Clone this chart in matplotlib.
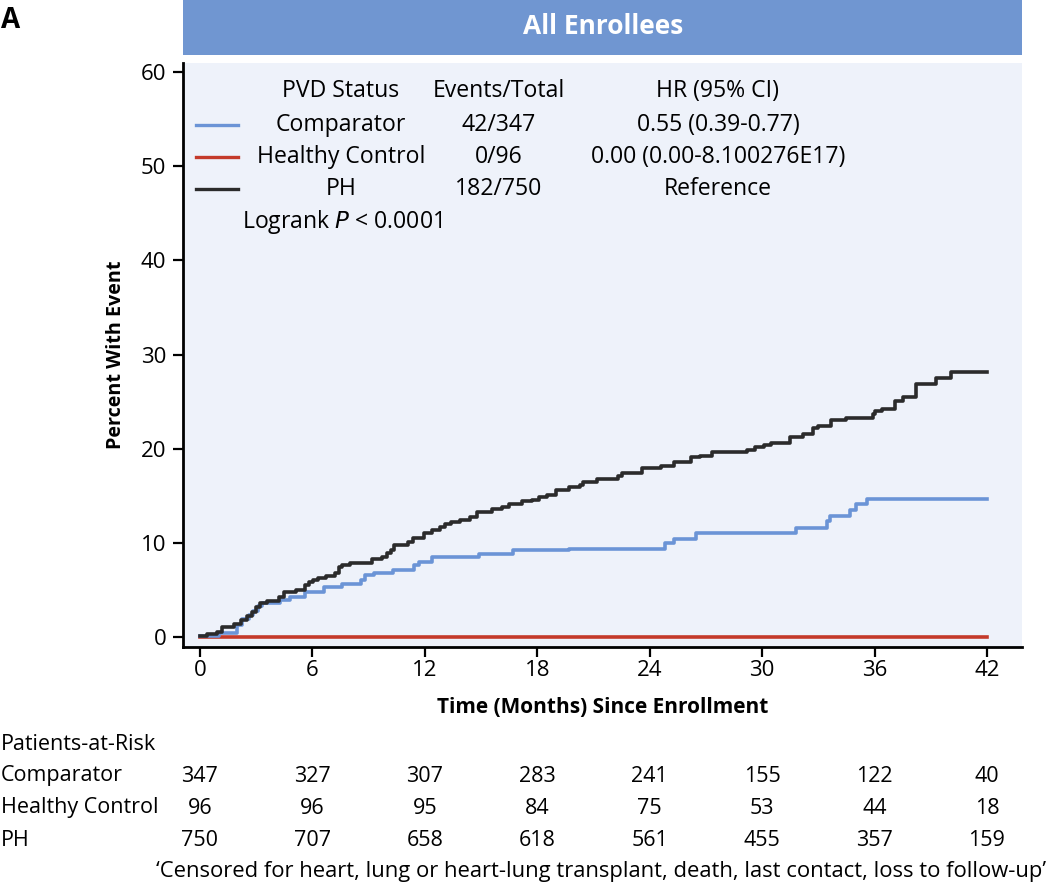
import matplotlib
matplotlib.use("Agg")
import matplotlib.pyplot as plt
import matplotlib.transforms as mtransforms
from matplotlib import font_manager

# ---------------- data ----------------
ph_t = [0.0, 0.4, 0.9, 1.2, 1.8, 2.2, 2.5, 2.75, 3.0, 3.2, 3.6, 4.2, 4.5, 5.1, 5.6, 5.8,
        6.05, 6.3, 6.75, 7.2, 7.4, 7.6, 8.0, 9.16, 9.7, 10.0, 10.2, 10.35, 11.1, 11.35,
        11.96, 12.4, 12.8, 13.07, 13.4, 13.9, 14.4, 14.8, 15.6, 16.1, 16.5, 17.2, 17.7,
        18.1, 18.5, 19.0, 19.7, 20.3, 20.45, 21.2, 22.3, 22.5, 23.6, 24.6, 25.3, 26.2,
        26.7, 27.35, 29.2, 29.6, 30.1, 30.5, 31.5, 32.2, 32.7, 33.0, 33.7, 34.5, 35.9,
        36.0, 36.4, 37.1, 37.5, 38.2, 39.3, 40.1, 42.0]
ph_y = [0.1, 0.3, 0.55, 1.1, 1.4, 1.8, 2.2, 2.7, 3.15, 3.65, 3.85, 4.3, 4.8, 5.0, 5.5, 5.8,
        6.05, 6.3, 6.5, 6.8, 7.45, 7.7, 7.9, 8.25, 8.5, 8.9, 9.2, 9.75, 10.1, 10.5,
        11.0, 11.4, 11.7, 12.0, 12.2, 12.4, 12.7, 13.3, 13.6, 13.8, 14.1, 14.4, 14.6,
        14.9, 15.1, 15.6, 15.9, 16.1, 16.45, 16.8, 17.1, 17.45, 17.9, 18.2, 18.6, 19.1,
        19.25, 19.7, 19.9, 20.2, 20.4, 20.6, 21.2, 21.6, 22.2, 22.4, 23.0, 23.3, 23.7,
        24.0, 24.2, 25.1, 25.5, 26.9, 27.5, 28.1, 28.1]

comp_t = [0.0, 1.0, 1.95, 2.25, 2.6, 2.85, 3.1, 3.3, 4.27, 4.8, 5.6, 6.6, 7.56, 8.6, 8.8,
          9.3, 10.3, 11.4, 11.7, 12.4, 14.9, 16.7, 19.7, 24.8, 25.3, 26.45, 31.8, 33.45,
          33.6, 34.7, 35.0, 35.6, 42.0]
comp_y = [0.1, 0.4, 1.3, 1.9, 2.3, 2.8, 3.3, 3.6, 3.9, 4.3, 4.8, 5.3, 5.6, 6.1, 6.6,
          6.8, 7.1, 7.65, 7.95, 8.5, 8.8, 9.2, 9.35, 9.95, 10.4, 11.0, 11.55, 12.3,
          12.9, 13.5, 14.1, 14.65, 14.65]

hc_t = [0.0, 42.0]
hc_y = [0.0, 0.0]

groups = ["Comparator", "Healthy Control", "PH"]
events_total = ["42/347", "0/96", "182/750"]
hr_ci = ["0.55 (0.39-0.77)", "0.00 (0.00-8.100276E17)", "Reference"]

risk_times = [0, 6, 12, 18, 24, 30, 36, 42]
risk_comp = [347, 327, 307, 283, 241, 155, 122, 40]
risk_hc = [96, 96, 95, 84, 75, 53, 44, 18]
risk_ph = [750, 707, 658, 618, 561, 455, 357, 159]

yticks = [0, 10, 20, 30, 40, 50, 60]

# ---------------- style ----------------
avail = {f.name for f in font_manager.fontManager.ttflist}
body = "Open Sans" if "Open Sans" in avail else "DejaVu Sans"
plt.rcParams["font.family"] = [body, "DejaVu Sans"]

c_blue = "#6b94d6"
c_red = "#c43a2a"
c_black = "#2b2b2b"
c_banner = "#7096d1"
c_bg = "#eef2fa"

W, H = 1050, 889
fig = plt.figure(figsize=(W / 100, H / 100), dpi=100)

def fx(px):
    return px / W

def fy(py):
    return 1 - py / H

ax = fig.add_axes([fx(183), fy(647), fx(1022) - fx(183), fy(63) - fy(647)])
ax.set_facecolor(c_bg)

ax.step(comp_t, comp_y, where="post", color=c_blue, lw=2.6, zorder=3)
ax.step(hc_t, hc_y, where="post", color=c_red, lw=2.6, zorder=2)
ax.step(ph_t, ph_y, where="post", color=c_black, lw=2.6, zorder=4)

ax.set_xlim(-0.907, 43.87)
ax.set_ylim(-1.06, 60.96)
ax.set_xticks(risk_times)
ax.set_yticks(yticks)
ax.tick_params(axis="both", direction="out", length=7, width=1.6, labelsize=16, colors="black")
ax.tick_params(axis="y", pad=5)
ax.tick_params(axis="x", pad=2)
for s in ["top", "right"]:
    ax.spines[s].set_visible(False)
for s in ["left", "bottom"]:
    ax.spines[s].set_linewidth(2)
    ax.spines[s].set_color("black")

ax.set_ylabel("Percent With Event", fontsize=14.2, fontweight="bold", labelpad=11)
ax.set_xlabel("Time (Months) Since Enrollment", fontsize=15, fontweight="bold", labelpad=12)

# legend table inside axes (figure pixel coords)
fleg = 16.6
fig.text(fx(341), fy(91), "PVD Status", ha="center", va="center", fontsize=fleg)
fig.text(fx(499), fy(91), "Events/Total", ha="center", va="center", fontsize=fleg)
fig.text(fx(718), fy(91), "HR (95% CI)", ha="center", va="center", fontsize=fleg)
row_y = [125, 157, 189]
row_cols = [c_blue, c_red, c_black]
for g, e, h, yy, col in zip(groups, events_total, hr_ci, row_y, row_cols):
    fig.add_artist(plt.Line2D([fx(196), fx(238)], [fy(yy), fy(yy)], color=col, lw=2.4,
                              transform=fig.transFigure))
    fig.text(fx(341), fy(yy), g, ha="center", va="center", fontsize=fleg)
    fig.text(fx(499), fy(yy), e, ha="center", va="center", fontsize=fleg)
    fig.text(fx(718), fy(yy), h, ha="center", va="center", fontsize=fleg)
fig.text(fx(242), fy(222), "Logrank $\\it{P}$ < 0.0001", ha="left", va="center", fontsize=fleg)

# banner
fig.add_artist(plt.Rectangle((fx(183), fy(55)), fx(1022) - fx(183), fy(0) - fy(55),
                             facecolor=c_banner, edgecolor="none", transform=fig.transFigure))
fig.text(fx(603), fy(27), "All Enrollees", ha="center", va="center", fontsize=19,
         fontweight="bold", color="white")
fig.text(fx(1), fy(20), "A", ha="left", va="center", fontsize=20, fontweight="bold")

# risk table
ftxt = 15.5
trans = mtransforms.blended_transform_factory(ax.transData, fig.transFigure)
fig.text(fx(1), fy(745), "Patients-at-Risk", ha="left", va="center", fontsize=ftxt)
for name, vals, yy in zip(groups, [risk_comp, risk_hc, risk_ph], [776, 808, 840]):
    fig.text(fx(1), fy(yy), name, ha="left", va="center", fontsize=ftxt)
    for t, v in zip(risk_times, vals):
        fig.text(t, fy(yy), str(v), ha="center", va="center", fontsize=ftxt, transform=trans)

fig.text(fx(601), fy(872),
         "\u2018Censored for heart, lung or heart-lung transplant, death, last contact, loss to follow-up\u2019",
         ha="center", va="center", fontsize=15.8)

fig.savefig("out.png", dpi=100)
